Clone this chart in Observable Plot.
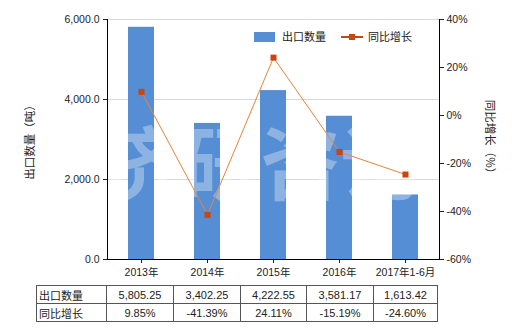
<!DOCTYPE html>
<html><head><meta charset="utf-8">
<script src="https://cdn.jsdelivr.net/npm/d3@7"></script>
<script src="https://cdn.jsdelivr.net/npm/@observablehq/plot@0.6"></script>
<style>
body{margin:0;background:#fff;}
#wrap{position:relative;width:520px;height:330px;font-family:'Liberation Sans','Noto Sans CJK SC',sans-serif;color:#222;overflow:hidden;}
#wrap svg{position:absolute;left:0;top:0;}
.leg{position:absolute;font-size:11px;line-height:12px;}
table.dt{position:absolute;left:36px;top:285px;border-collapse:collapse;font-size:11px;table-layout:fixed;}
table.dt td{border:1px solid #555;height:17px;padding:0;text-align:center;white-space:nowrap;}
table.dt td.h{text-align:left;padding-left:2px;}
</style></head><body><div id="wrap"></div>
<script>
const categories = ["2013年","2014年","2015年","2016年","2017年1-6月"];
const exportQty = [5805.25, 3402.25, 4222.55, 3581.17, 1613.42];
const yoyGrowth = [9.85, -41.39, 24.11, -15.19, -24.60];
const seriesNames = ["出口数量", "同比增长"];
const leftTicks = [0, 2000, 4000, 6000];
const rightTicks = [-60, -40, -20, 0, 20, 40];
const leftTitle = "出口数量（吨）";
const rightTitle = "同比增长（%）";
const watermark = "济研咨询";

const barColor = "#558ed5", lineColor = "#e8833a", markColor = "#c9460d";
const pctMin = -60, pctMax = 40, qMax = 6000;
const pct2y = p => (p - pctMin) / (pctMax - pctMin) * qMax;
const y2pct = v => Math.round(v / qMax * (pctMax - pctMin) + pctMin);

const data = categories.map((c, i) => ({cat: c, qty: exportQty[i], yoy: yoyGrowth[i]}));
const cjk = "'Noto Sans CJK SC',sans-serif";

const plot = Plot.plot({
  width: 520, height: 330,
  marginLeft: 107, marginRight: 81, marginTop: 19, marginBottom: 71,
  style: {fontFamily: "'Liberation Sans','Noto Sans CJK SC',sans-serif", fontSize: "10.5px", color: "#222", background: "transparent"},
  x: {domain: categories, paddingInner: 0.6, paddingOuter: 0.3},
  y: {domain: [0, qMax]},
  marks: [
    Plot.gridY(leftTicks.filter(d => d > 0), {stroke: "#d9d9d9", strokeOpacity: 1}),
    Plot.barY(data, {x: "cat", y: "qty", fill: barColor}),
    Plot.text([watermark], {frameAnchor: "middle", dx: -13, dy: 28, fontSize: 80, fontWeight: "bold", fill: "#fff", fillOpacity: 0.33, text: d => d}),
    Plot.line(data, {x: "cat", y: d => pct2y(d.yoy), stroke: lineColor, strokeWidth: 1}),
    Plot.dot(data, {x: "cat", y: d => pct2y(d.yoy), symbol: "square", r: 3.4, fill: markColor, stroke: null}),
    Plot.axisY(leftTicks, {anchor: "left", tickFormat: d3.format(",.1f"), tickSize: 4, tickPadding: 4, label: null}),
    Plot.axisY(rightTicks.map(pct2y), {anchor: "right", tickFormat: d => y2pct(d) + "%", tickSize: 4, tickPadding: 3, label: null}),
    Plot.axisX({tickSize: 4, tickPadding: 5, label: null}),
    Plot.text([leftTitle], {frameAnchor: "left", textAnchor: "middle", dx: -77, rotate: -90, fontSize: 11.5, fontFamily: cjk, fill: "#222", text: d => d}),
    Plot.text([rightTitle], {frameAnchor: "right", textAnchor: "middle", dx: 50, rotate: 90, fontSize: 11.5, fontFamily: cjk, fill: "#222", text: d => d}),
    Plot.frame({anchor: "left", stroke: "#000"}),
    Plot.frame({anchor: "right", stroke: "#000"}),
    Plot.ruleY([0], {stroke: "#000"})
  ]
});
const wrap = document.getElementById("wrap");
wrap.appendChild(plot);

// legend
const leg = document.createElement("div");
leg.innerHTML = `
<div class="leg" style="left:254px;top:32px;width:21px;height:10px;background:${barColor}"></div>
<div class="leg" style="left:282px;top:31px;">${seriesNames[0]}</div>
<svg class="leg" style="left:341px;top:32px;" width="22" height="10"><line x1="0" x2="22" y1="5" y2="5" stroke="${markColor}" stroke-width="2"/><rect x="8" y="2" width="6" height="6" fill="${markColor}"/></svg>
<div class="leg" style="left:368px;top:31px;">${seriesNames[1]}</div>`;
wrap.appendChild(leg);

// table
const fq = d3.format(",.2f");
const widths = [70, 67, 67, 66, 67, 64];
const tbl = document.createElement("table");
tbl.className = "dt";
tbl.innerHTML = `<colgroup>${widths.map(w => `<col style="width:${w}px">`).join("")}</colgroup>
<tr><td class="h">${seriesNames[0]}</td>${exportQty.map(v => `<td>${fq(v)}</td>`).join("")}</tr>
<tr><td class="h">${seriesNames[1]}</td>${yoyGrowth.map(v => `<td>${v.toFixed(2)}%</td>`).join("")}</tr>`;
wrap.appendChild(tbl);
</script>
</body></html>
